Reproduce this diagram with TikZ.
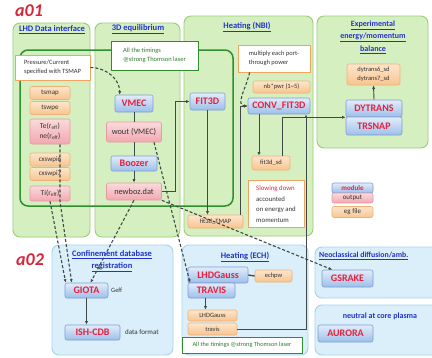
\documentclass[tikz,border=0pt]{standalone}
\usepackage{fontspec}
\setmainfont{Carlito}
\usetikzlibrary{arrows.meta}
\definecolor{gpfill}{HTML}{D6EFC0}
\definecolor{gpdraw}{HTML}{9ACD78}
\definecolor{bpfill}{HTML}{DAEFFA}
\definecolor{bpdraw}{HTML}{A3D3EE}
\definecolor{dkgreen}{HTML}{2F8F2F}
\definecolor{titleblue}{HTML}{2233CC}
\definecolor{modred}{HTML}{E8203C}
\definecolor{modtop}{HTML}{E2ECFA}
\definecolor{modbot}{HTML}{9DBFEA}
\definecolor{moddraw}{HTML}{7C9ED4}
\definecolor{outtop}{HTML}{FBDADC}
\definecolor{outbot}{HTML}{F2A8AF}
\definecolor{outdraw}{HTML}{E39AA3}
\definecolor{filetop}{HTML}{FDE6CC}
\definecolor{filebot}{HTML}{F8C48E}
\definecolor{filedraw}{HTML}{EDB27A}
\definecolor{notedraw}{HTML}{F0A460}
\definecolor{linegray}{HTML}{404848}
\definecolor{labred}{HTML}{D8263A}
\definecolor{gtext}{HTML}{2F7F2F}
\tikzset{
  gpanel/.style={draw=gpdraw, fill=gpfill, line width=0.9pt, rounded corners=7pt},
  bpanel/.style={draw=bpdraw, fill=bpfill, line width=0.9pt, rounded corners=7pt},
  ptitle/.style={text=titleblue, font=\bfseries\fontsize{8.5}{12}\selectfont, align=center, inner sep=0},
  box/.style={inner sep=0, rounded corners=2pt, line width=0.6pt, align=center},
  module/.style={box, draw=moddraw, top color=modtop, bottom color=modbot, text=modred, font=\bfseries\fontsize{10}{11}\selectfont},
  output/.style={box, draw=outdraw, top color=outtop, bottom color=outbot, text=black!80, font=\fontsize{8.3}{9}\selectfont},
  efile/.style={box, draw=filedraw, top color=filetop, bottom color=filebot, text=black!80, font=\fontsize{6.5}{8}\selectfont},
  note/.style={draw=notedraw, fill=white, line width=0.9pt, inner sep=2pt, align=left, font=\fontsize{6.5}{8.5}\selectfont, text=black!80},
  gnote/.style={draw=dkgreen, fill=white, line width=1pt, inner sep=2pt, align=left, font=\fontsize{6.5}{8.5}\selectfont, text=gtext},
  conn/.style={draw=linegray, line width=0.9pt, -{Latex[length=3.5pt,width=3pt]}},
  plain/.style={draw=linegray, line width=0.9pt},
  dasharr/.style={draw=linegray, line width=1.1pt, dash pattern=on 3pt off 2pt, -{Latex[length=3.5pt,width=3pt]}},
  plaintext/.style={inner sep=0, font=\fontsize{7}{8}\selectfont, text=black!80},
}
\begin{document}
\begin{tikzpicture}[x=1pt,y=-1pt]
\clip (0,0) rectangle (432,357);
\fill[white] (0,0) rectangle (432,357);
% ---------- a01 panels
\draw[gpanel] (13,23) rectangle (90,237);
\draw[gpanel] (95,23) rectangle (180,237);
\draw[gpanel] (184,16) rectangle (313,236);
\draw[gpanel] (317,16) rectangle (428,148);
\node[ptitle] (t1) at (52,30) {\underline{LHD Data interface}};
\node[ptitle] (t2) at (138,29) {\underline{3D equilibrium}};
\node[ptitle] (t3) at (247,27) {\underline{Heating (NBI)}};
\node[ptitle, font=\bfseries\fontsize{8}{12.5}\selectfont] (t4) at (373,37) {\underline{Experimental}\\\underline{energy/momentum}\\\underline{balance}};
\node[text=labred, inner sep=0, font=\bfseries\itshape\fontsize{18}{18}\selectfont] (a01) at (29,11) {a01};
% ---------- a02 panels
\draw[bpanel] (52,245) rectangle (173,355);
\draw[bpanel] (182,245) rectangle (308,355);
\draw[bpanel] (315,247) rectangle (440,298);
\draw[bpanel] (315,305) rectangle (440,355);
\node[ptitle] (t5) at (112,261) {\underline{Confinement database}\\\underline{registration}};
\node[ptitle] (t6) at (245,257) {\underline{Heating (ECH)}};
\node[ptitle, anchor=west, font=\bfseries\fontsize{7.8}{9}\selectfont] (t7) at (319,256) {\underline{Neoclassical diffusion/amb.}};
\node[ptitle, font=\bfseries\fontsize{8}{9}\selectfont] (t8) at (380,316) {neutral at core plasma};
\node[text=labred, inner sep=0, font=\bfseries\itshape\fontsize{18}{18}\selectfont] (a02) at (30,260) {a02};
% ---------- big timing box
\draw[dkgreen, line width=1.5pt, rounded corners=8pt] (20,50) rectangle (233,206);
\node[gnote, minimum width=87, minimum height=29] (tim1) at (154.5,55.5) {All the timings\\@strong Thomson laser};
% ---------- left column
\node[note, minimum width=75, minimum height=25] (press) at (52.5,67.5) {Pressure/Current\\specified with TSMAP};
\node[efile, minimum width=40, minimum height=13, font=\fontsize{7}{8}\selectfont] (tsmap) at (50,93) {tsmap};
\node[efile, minimum width=40, minimum height=13, font=\fontsize{7}{8}\selectfont] (tswpe) at (50,108) {tswpe};
\node[output, minimum width=40, minimum height=25, font=\fontsize{7.5}{10}\selectfont] (tene) at (50,131.5) {Te(r\textsubscript{eff})\\ne(r\textsubscript{eff})};
\node[efile, minimum width=40, minimum height=13, font=\fontsize{7}{8}\selectfont] (cx6) at (50,159.5) {cxswpi6};
\node[efile, minimum width=40, minimum height=13, font=\fontsize{7}{8}\selectfont] (cx7) at (50,174) {cxswpi7};
\node[output, minimum width=40, minimum height=15, font=\fontsize{7.5}{8}\selectfont] (ti) at (50,193.5) {Ti(r\textsubscript{eff})};
% ---------- middle column
\node[module, minimum width=38, minimum height=17] (vmec) at (134,103.5) {VMEC};
\node[output, minimum width=55, minimum height=20] (wout) at (134,132) {wout (VMEC)};
\node[module, minimum width=46, minimum height=15] (boozer) at (134,163.5) {Boozer};
\node[output, minimum width=55, minimum height=17] (newboz) at (134,191.5) {newboz.dat};
% ---------- NBI column
\node[module, minimum width=35, minimum height=17] (fit3d) at (207.5,101.5) {FIT3D};
\node[note, minimum width=72, minimum height=27] (mult) at (274,58.5) {multiply each port-\\through power};
\node[efile, minimum width=57, minimum height=12] (nbpwr) at (281.5,87) {nb*pwr (1\textasciitilde5)};
\node[module, minimum width=62, minimum height=16] (conv) at (279,106) {CONV\_FIT3D};
\node[efile, minimum width=38, minimum height=14] (fit3dsd) at (271,163) {fit3d\_sd};
\node[note, minimum width=56, minimum height=47, font=\fontsize{6.8}{10.5}\selectfont] (slow) at (276,204) {{\color{modred}Slowing down}\\accounted\\on energy and\\momentum};
\node[efile, minimum width=55, minimum height=13] (fit3dtmap) at (215.5,221.5) {fit3d\_TMAP};
% ---------- experimental
\node[efile, minimum width=53, minimum height=21, font=\fontsize{6.5}{8.5}\selectfont] (dyfile) at (373.5,74.5) {dytrans6\_sd\\dytrans7\_sd};
\node[module, minimum width=56, minimum height=17] (dytrans) at (374,108.5) {DYTRANS};
\node[module, minimum width=56, minimum height=18] (trsnap) at (374,126) {TRSNAP};
% ---------- legend
\node[module, minimum width=41, minimum height=10, font=\bfseries\fontsize{7}{8}\selectfont] (lgmod) at (352.5,188) {module};
\node[output, minimum width=41, minimum height=10, font=\fontsize{7}{8}\selectfont] (lgout) at (352.5,198) {output};
\node[efile, minimum width=41, minimum height=11, font=\fontsize{7}{8}\selectfont] (lgfile) at (352.5,212) {eg file};
% ---------- a02 content
\node[module, minimum width=43, minimum height=15] (giota) at (86.5,290.5) {GIOTA};
\node[plaintext, anchor=west, font=\fontsize{6.5}{8}\selectfont] (geff) at (111,290.5) {Geff};
\node[module, minimum width=55, minimum height=15] (ishcdb) at (92.5,332.5) {ISH-CDB};
\node[plaintext, anchor=west] (dfmt) at (125,332.5) {data format};
\node[module, minimum width=60, minimum height=16] (lhdg) at (218,275) {LHDGauss};
\node[module, minimum width=47, minimum height=15] (travis) at (211.5,290.5) {TRAVIS};
\node[efile, minimum width=37, minimum height=12] (echpw) at (273.5,276) {echpw};
\node[efile, minimum width=49, minimum height=11] (lhdgf) at (212.5,315.5) {LHDGauss};
\node[efile, minimum width=49, minimum height=12] (travisf) at (212.5,329) {travis};
\node[gnote, minimum width=120, minimum height=16, font=\fontsize{6.3}{8}\selectfont] (tim2) at (242,345) {All the timings @strong Thomson laser};
\node[module, minimum width=51, minimum height=17] (gsrake) at (347.5,278.5) {GSRAKE};
\node[module, minimum width=55, minimum height=17] (aurora) at (345.5,333.5) {AURORA};
% ---------- solid connectors
\draw[plain] (vmec.south) -- (wout.north);
\draw[plain] (wout.south) -- (boozer.north);
\draw[conn] (boozer.south) -- (newboz.north);
\draw[conn] (newboz.east) -- ++(14,0) |- (fit3d.west);
\draw[conn] (fit3d.south) -- (fit3d.south |- fit3dtmap.north);
\draw[conn] ([xshift=-3]fit3dtmap.north east) |- (conv.west);
\draw[conn] ([xshift=-20]conv.south) -- ([xshift=-20]conv.south |- fit3dsd.north);
\draw[conn] ([xshift=11]fit3dsd.north) |- (dytrans.south west);
\draw[conn] (travisf.east) -| ([xshift=27]conv.south);
\draw[conn] (dytrans.north) -- (dyfile.south);
\draw[conn] (giota.south) -- (giota.south |- ishcdb.north);
\draw[plain, line width=1.3pt] (lhdg.east) -- (echpw.west);
\draw[conn] ([xshift=-6]travis.south) -- ([xshift=-6]travis.south |- lhdgf.north);
% ---------- dashed connectors
\draw[dasharr] (press.east) to[out=0,in=90] ([xshift=5]vmec.north west);
\draw[dasharr] ([xshift=12]mult.south west) to[out=-100,in=180] (conv.west);
\draw[dasharr] ([xshift=20]wout.south) -- (travis.160);
\draw[dasharr] (newboz.south east) -- (gsrake.150);
\draw[dasharr] (newboz.south) -- ([xshift=4]giota.north);
\draw[dasharr] (ti.south) -- ([xshift=1]giota.north west);
\draw[dasharr] ([xshift=10]tene.south) -- ([xshift=10]ti.south) -- ([xshift=7]giota.north west);
\end{tikzpicture}
\end{document}
